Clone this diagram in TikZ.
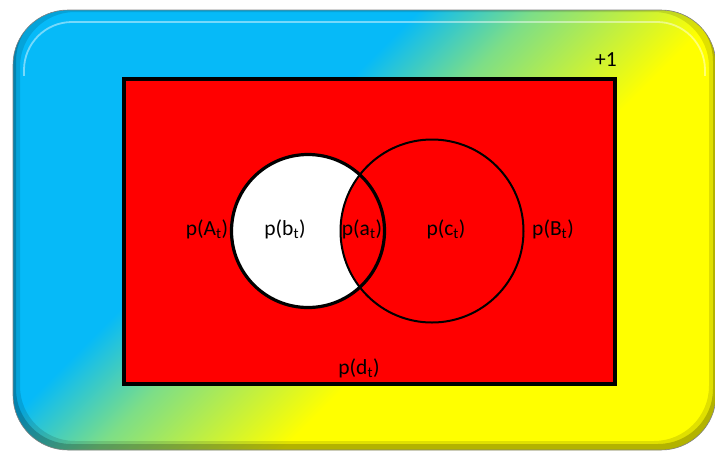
\documentclass[tikz,border=0pt]{standalone}
\usepackage{fontspec}
\setmainfont{Carlito}
\definecolor{cyA}{RGB}{6,186,248}
\definecolor{grA}{RGB}{125,222,135}
\definecolor{ylA}{RGB}{255,255,0}
\pgfdeclarehorizontalshading{bggrad}{100bp}{color(0bp)=(cyA); color(45.9bp)=(cyA); color(50bp)=(grA); color(56.6bp)=(ylA); color(100bp)=(ylA)}
\begin{document}
\begin{tikzpicture}[x=1pt,y=-1pt,
  lbl/.style={font=\fontsize{21.5}{25}\selectfont, inner sep=0pt},
  outerbox/.style={rounded corners=55pt}]
\useasboundingbox (0,0) rectangle (715,451);
% outer gradient panel
\begin{scope}
  \clip[outerbox] (13,10) rectangle (716,450);
  \begin{scope}[transform canvas={shift={(272.5,272.5)}, rotate=-45}]
    \shade[shading=bggrad] (-500,-560) rectangle (500,560);
  \end{scope}
  \fill[black, opacity=0.12, even odd rule, outerbox] (13,10) rectangle (716,450) (20,12) rectangle (709,441);
  \fill[black, opacity=0.2, even odd rule, outerbox] (13,10) rectangle (716,450) (16,6) rectangle (713,444);
  \begin{scope}
    \clip (0,0) rectangle (715,75);
    \draw[white, opacity=0.45, line width=1.8pt, rounded corners=48pt] (24,22) rectangle (705,440);
  \end{scope}
\end{scope}
\draw[gray, line width=0.6pt, outerbox] (13,10) rectangle (716,450);
% red frame
\draw[line width=3.5pt, fill=red] (124,79) rectangle (615,384);
% circles
\fill[white] (308,231) circle[radius=76.5];
\draw[line width=2pt, fill=red] (432,231) circle[radius=91.5];
\draw[line width=3.2pt] (308,231) circle[radius=76.5];
% labels
\node[lbl] (pA) at (207,229) {p(A\textsubscript{t})};
\node[lbl] (pb) at (285,229) {p(b\textsubscript{t})};
\node[lbl] (pa) at (362,229) {p(a\textsubscript{t})};
\node[lbl] (pc) at (446,229) {p(c\textsubscript{t})};
\node[lbl] (pB) at (553,229) {p(B\textsubscript{t})};
\node[lbl] (pd) at (359,368) {p(d\textsubscript{t})};
\node[lbl] (p1) at (606,60) {+1};
\end{tikzpicture}
\end{document}
